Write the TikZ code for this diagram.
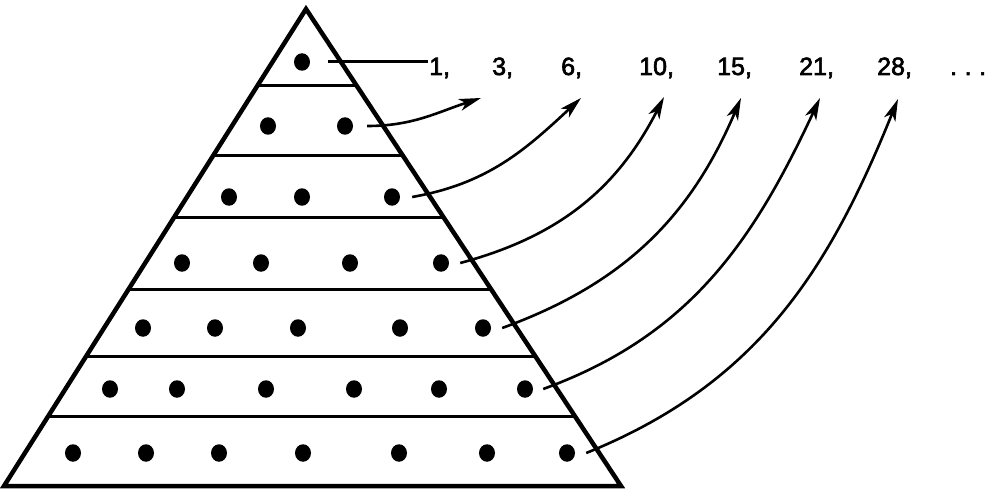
\documentclass[tikz,border=0pt]{standalone}
\usepackage{fontspec}
\setmainfont{Liberation Sans}
\newfontfamily\numfont[FakeBold=2.5]{Liberation Sans}
\usetikzlibrary{calc,arrows.meta,shapes.geometric}
\begin{document}
\begin{tikzpicture}[x=1pt,y=1pt,
  dot/.style={ellipse,fill=black,inner sep=0pt,minimum width=16pt,minimum height=17.5pt},
  num/.style={anchor=base west,inner sep=0pt,font=\numfont\fontsize{25}{30}\selectfont},
  arr/.style={line width=2.6pt,-{Stealth[length=22pt,width=12pt,inset=6pt]}},
  band/.style={line width=3pt},
  tri/.style={line width=4.5pt,line join=miter},
  lead/.style={line width=3pt}]
\useasboundingbox (0,0) rectangle (991,491);
\coordinate (A) at (306,482);
\coordinate (L) at (4,5);
\coordinate (R) at (621,5);
\draw[tri] (A) -- (L) -- (R) -- cycle;
\foreach \t in {0.161,0.3075,0.437,0.588,0.728,0.854}
  \draw[band] ($(A)!\t!(L)$) -- ($(A)!\t!(R)$);
% dots
\foreach \r/\y/\xs in {1/429/{302}, 2/365/{268,345}, 3/294/{229,302,392},
    4/228/{182,261,350,441}, 5/163/{143,215,298,400,483},
    6/102/{110,177,266,354,439,525}, 7/38/{73,146,219,303,399,487,567}}
  {\foreach \x [count=\i] in \xs \node[dot] (d\r-\i) at (\x,\y) {};}
% numbers
\node[num] (n1) at (429,416) {1,};
\node[num] (n3) at (492,416) {3,};
\node[num] (n6) at (561,416) {6,};
\node[num] (n10) at (639,416) {10,};
\node[num] (n15) at (717,416) {15,};
\node[num] (n21) at (799,416) {21,};
\node[num] (n28) at (877,416) {28,};
\node[num] (ndots) at (950,416) {.\hspace{0.3em}.\hspace{0.3em}.};
% tips
\coordinate (t3) at (481,393);
\coordinate (t6) at (581,393);
\coordinate (t10) at (664,394);
\coordinate (t15) at (741,393);
\coordinate (t21) at (820,393);
\coordinate (t28) at (898,392);
% connectors
\draw[lead] ([xshift=18pt]d1-1.east) -- ([xshift=-1pt]n1.west |- d1-1);
\draw[arr] ([xshift=14pt]d2-2.east) to[out=0,in=198] (t3);
\draw[arr] ([xshift=12pt]d3-3.east) to[out=10,in=223] (t6);
\draw[arr] ([xshift=11pt]d4-4.east) to[out=15,in=243] (t10);
\draw[arr] ([xshift=11pt]d5-5.east) to[out=20,in=247] (t15);
\draw[arr] ([xshift=10pt]d6-6.east) to[out=20,in=245] (t21);
\draw[arr] ([xshift=11pt]d7-7.east) to[out=22,in=248] (t28);
\end{tikzpicture}
\end{document}
